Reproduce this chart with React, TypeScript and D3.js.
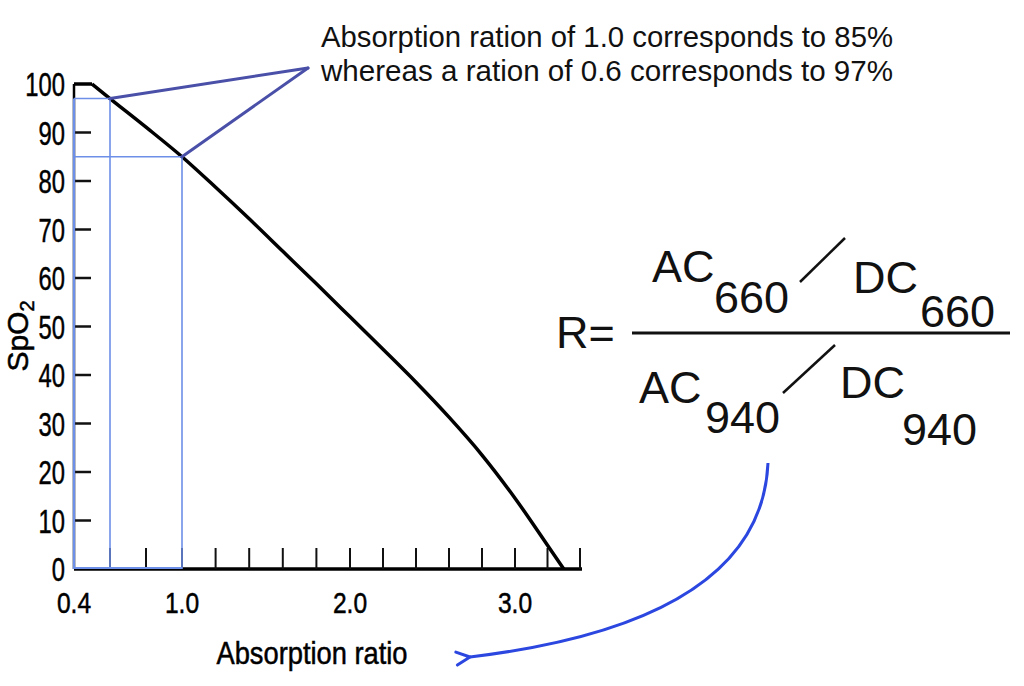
import React from 'react';
import * as d3 from 'd3';

// SpO2 calibration curve
const ratio = [0.4, 0.5, 0.6, 0.8, 1.0, 1.2, 1.4, 1.6, 1.8, 2.0, 2.2, 2.4, 2.6, 2.8, 3.0, 3.2, 3.3];
const spo2 = [100, 100, 97, 91.1, 85, 78.7, 72.2, 65.5, 58.8, 52.0, 45.3, 38.5, 31.3, 23.5, 14.6, 4.9, 0];

const xTickLabels = ['0.4', '1.0', '2.0', '3.0'];
const xMinorTicks = [0.6, 0.8, 1.0, 1.2, 1.4, 1.6, 1.8, 2.0, 2.2, 2.4, 2.6, 2.8, 3.0, 3.2, 3.4];
const yTickLabels = [0, 10, 20, 30, 40, 50, 60, 70, 80, 90, 100];

// the two marked readings
const marks = [
  { r: 0.6, s: 97 },
  { r: 1.0, s: 85 },
];

const noteLines = [
  'Absorption ration of 1.0 corresponds to 85%',
  'whereas a ration of 0.6 corresponds to 97%',
];

const W = 1024;
const H = 686;

// the scanned axis is not quite even, so a piecewise scale
const x = d3.scaleLinear().domain([0.4, 1.0, 2.0, 3.0, 3.4]).range([74, 182, 350, 515, 580]);
const y = d3.scaleLinear().domain([0, 100]).range([569, 84]);

const sans = "'Liberation Sans', Arial, sans-serif";

// condensed, slightly heavy look of the scanned chart font
function NText(props: { x: number; y: number; size: number; anchor?: string; sx?: number; rotate?: number; children: React.ReactNode }) {
  const { x: tx, y: ty, size, anchor = 'start', sx = 0.8, rotate = 0, children } = props;
  return (
    <text transform={`translate(${tx},${ty}) rotate(${rotate}) scale(${sx},1)`} textAnchor={anchor}
      fontFamily={sans} fontSize={size} fill="#000" stroke="#000" strokeWidth={0.5}>{children}</text>
  );
}

export default function App() {
  const pts: [number, number][] = ratio.map((r, i) => [r, spo2[i]]);
  const flat = d3.line<[number, number]>().x(d => x(d[0])).y(d => y(d[1]));
  const smooth = d3.line<[number, number]>()
    .x(d => x(d[0]))
    .y(d => y(d[1]))
    .curve(d3.curveMonotoneX);

  const apex = { x: 308, y: 68 };
  const boxColor = '#6d8fe8';
  const calloutColor = '#4a50a8';

  return (
    <div style={{ position: 'absolute', left: 0, top: 0 }}>
      <svg width={W} height={H} style={{ display: 'block', background: '#fff' }}>
        <defs>
          <marker id="arrow" viewBox="0 0 18 18" refX="1.5" refY="9" markerWidth="18" markerHeight="18"
            markerUnits="userSpaceOnUse" orient="auto-start-reverse">
            <path d="M15,2.5 L1.5,9 L15,15.5" fill="none" stroke="#2b47e0" strokeWidth={3} strokeLinecap="round"
              strokeLinejoin="round" />
          </marker>
        </defs>

        {/* y axis */}
        <line x1={x(0.4)} x2={x(0.4)} y1={y(0)} y2={y(100)} stroke="#000" strokeWidth={2.5} />
        {yTickLabels.filter(v => v > 0 && v < 100).map(v => (
          <line key={v} x1={x(0.4)} x2={x(0.4) + 17} y1={y(v)} y2={y(v)} stroke="#111" strokeWidth={2.5} />
        ))}
        {yTickLabels.map(v => (
          <NText key={v} x={65} y={y(v) + 12} size={34} anchor="end" sx={0.7}>{v}</NText>
        ))}

        {/* x axis */}
        <line x1={x(0.4)} x2={x(3.4) + 2} y1={y(0)} y2={y(0)} stroke="#000" strokeWidth={3.5} />
        {xMinorTicks.map(v => (
          <line key={v} x1={x(v)} x2={x(v)} y1={y(0)} y2={y(0) - 21} stroke="#111" strokeWidth={2} />
        ))}
        {xTickLabels.map(v => (
          <NText key={v} x={x(+v)} y={613} size={30} anchor="middle" sx={0.82}>{v}</NText>
        ))}
        <NText x={312} y={664} size={31} anchor="middle" sx={0.88}>Absorption ratio</NText>
        <NText x={28} y={336} size={30} anchor="middle" sx={1.0} rotate={-90}>
          SpO<tspan fontSize={20} dy={6}>2</tspan>
        </NText>

        {/* curve: flat cap then the smooth fall */}
        <path d={flat(pts.slice(0, 2)) || ''} fill="none" stroke="#000" strokeWidth={3.5} />
        <path d={smooth(pts.slice(1)) || ''} fill="none" stroke="#000" strokeWidth={3.5} strokeLinejoin="round" />

        {/* reading guides */}
        <line x1={x(0.4)} x2={x(0.4)} y1={y(marks[0].s)} y2={y(0)} stroke={boxColor} strokeWidth={2.2} />
        {marks.map(m => (
          <g key={m.r}>
            <line x1={x(m.r)} x2={x(m.r)} y1={y(m.s)} y2={y(0)} stroke={boxColor} strokeWidth={1.6} />
            <line x1={x(0.4)} x2={x(m.r)} y1={y(m.s)} y2={y(m.s)} stroke={boxColor} strokeWidth={1.6} />
          </g>
        ))}
        <line x1={x(0.4)} x2={x(1.0)} y1={y(0) - 1} y2={y(0) - 1} stroke={boxColor} strokeWidth={1.8} />

        {/* callout */}
        {marks.map(m => (
          <line key={m.r} x1={x(m.r)} y1={y(m.s)} x2={apex.x} y2={apex.y} stroke={calloutColor}
            strokeWidth={3} strokeLinecap="round" />
        ))}
        {noteLines.map((t, i) => (
          <text key={i} x={321} y={47 + i * 34} fontFamily={sans} fontSize={29} fill="#111"
            textLength={572} lengthAdjust="spacingAndGlyphs">{t}</text>
        ))}

        {/* formula */}
        <g fontFamily={sans} fontSize={45} fill="#111">
          <text x={556} y={348}>R=</text>
          <text x={652} y={282}>AC</text>
          <text x={714} y={313}>660</text>
          <text x={853} y={293}>DC</text>
          <text x={920} y={327}>660</text>
          <text x={639} y={403}>AC</text>
          <text x={705} y={433}>940</text>
          <text x={840} y={398}>DC</text>
          <text x={902} y={445}>940</text>
        </g>
        <line x1={800} y1={282} x2={845} y2={238} stroke="#111" strokeWidth={2.5} />
        <line x1={783} y1={393} x2={835} y2={345} stroke="#111" strokeWidth={2.5} />
        <line x1={632} x2={1010} y1={333} y2={333} stroke="#111" strokeWidth={3} />

        {/* arrow */}
        <path d="M768,463 Q761,622 470,657" fill="none" stroke="#2b47e0" strokeWidth={3}
          markerEnd="url(#arrow)" />
      </svg>
    </div>
  );
}
